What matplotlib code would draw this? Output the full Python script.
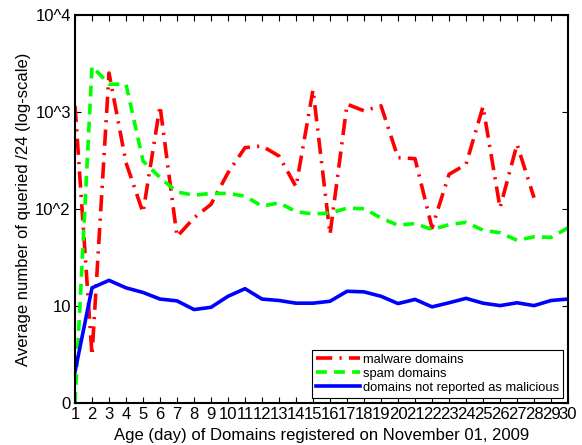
import matplotlib
matplotlib.use("Agg")
import matplotlib.pyplot as plt
import numpy as np

plt.rcParams['font.family'] = ['Liberation Sans', 'DejaVu Sans']

# Age in days
days = list(range(1, 31))

# malware domains (ends at day 28)
malware = [1160, 3.1, 2530, 300, 92, 1160, 52, 81, 112, 237, 430, 447, 352, 170,
           1700, 55, 1207, 1030, 1160, 339, 331, 64, 228, 289, 1142, 103, 466, 131]

# spam domains
spam = [1.0, 2960, 1940, 1940, 313, 211, 150, 139, 145, 145, 136, 107, 116, 94,
        89, 91, 102, 101, 81, 68, 71, 61.5, 69, 73, 60.5, 57, 47.7, 51.7, 51, 64]

# domains not reported as malicious
benign = [2.1, 15.4, 18.4, 15.4, 13.8, 11.8, 11.3, 9.2, 9.7, 12.6, 15.1, 11.8, 11.4, 10.7,
          10.7, 11.2, 14.2, 14.0, 12.6, 10.6, 11.7, 9.8, 10.8, 12.0, 10.7, 10.1, 10.8, 10.1,
          11.4, 11.8]

ytick_vals = [1, 10, 100, 1000, 10000]
ytick_labels = ['0', '10', '10^2', '10^3', '10^4']

fig = plt.figure(figsize=(5.82, 4.45), dpi=100)
ax = fig.add_axes([0.1289, 0.0944, 0.8471, 0.8716])

ax.plot(days[:len(malware)], malware, color='#ff0000', linewidth=2.6,
        linestyle=(0, (4.5, 2, 0.6, 2)), label='malware domains')
ax.plot(days, spam, color='#00ff00', linewidth=2.6,
        linestyle=(0, (3, 2)), label='spam domains')
ax.plot(days, benign, color='#0000ff', linewidth=2.6,
        linestyle='-', label='domains not reported as malicious')

ax.set_yscale('log')
ax.set_ylim(1, 10000)
ax.set_xlim(1, 30)
ax.set_yticks(ytick_vals)
ax.set_yticklabels(ytick_labels)
ax.yaxis.set_minor_locator(matplotlib.ticker.NullLocator())
ax.set_xticks(days)
ax.set_xticklabels([str(d) for d in days])

ax.tick_params(axis='both', which='both', direction='in', top=True, right=True,
               labelsize=12, length=4, width=0.8, pad=3)
ax.tick_params(axis='x', pad=3)
for s in ax.spines.values():
    s.set_linewidth(1.5)

ax.set_xlabel('Age (day) of Domains registered on November 01, 2009', fontsize=12, labelpad=4)
ax.set_ylabel('Average number of queried /24 (log-scale)', fontsize=12, labelpad=3)

leg = ax.legend(loc='lower right', fontsize=9.3, frameon=True, fancybox=False,
                edgecolor='black', framealpha=1, borderaxespad=0.4,
                handlelength=3.4, handletextpad=0.2, labelspacing=0.15, borderpad=0.3)
leg.get_frame().set_linewidth(0.8)

fig.savefig('out.png', dpi=100)
